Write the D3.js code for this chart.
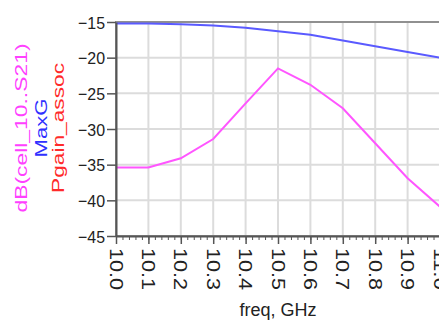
<!DOCTYPE html>
<html><head><meta charset="utf-8">
<script src="https://cdn.jsdelivr.net/npm/d3@7"></script>
<style>html,body{margin:0;padding:0;background:#fff;overflow:hidden}</style>
</head><body>
<svg id="c" width="439" height="322"></svg>
<script>
const freq = [10.0,10.1,10.2,10.3,10.4,10.5,10.6,10.7,10.8,10.9,11.0];
const maxG = [-15.2,-15.2,-15.3,-15.5,-15.8,-16.3,-16.8,-17.6,-18.4,-19.2,-20.0];
const s21 = [-35.4,-35.4,-34.1,-31.4,-26.4,-21.5,-23.8,-27.1,-32.0,-36.9,-40.9];
const xTicks = [10.0,10.1,10.2,10.3,10.4,10.5,10.6,10.7,10.8,10.9,11.0];
const yTicks = [-45,-40,-35,-30,-25,-20,-15];

const svg = d3.select('#c');
const font = 'Arial, "Liberation Sans", Helvetica, sans-serif';
const x = d3.scaleLinear().domain([10.0,11.0]).range([116,440]);
const y = d3.scaleLinear().domain([-45,-15]).range([236,22]);

// grid
svg.append('g').selectAll('line').data(xTicks).join('line')
  .attr('x1',d=>x(d)).attr('x2',d=>x(d)).attr('y1',y(-15)).attr('y2',y(-45))
  .attr('stroke','#dcdcdc').attr('stroke-width',2);
svg.append('g').selectAll('line').data(yTicks).join('line')
  .attr('x1',x(10)).attr('x2',x(11)).attr('y1',d=>y(d)).attr('y2',d=>y(d))
  .attr('stroke','#dcdcdc').attr('stroke-width',2);

// frame
svg.append('rect').attr('x',x(10)).attr('y',y(-15)).attr('width',x(11)-x(10)).attr('height',y(-45)-y(-15))
  .attr('fill','none').attr('stroke','#909090').attr('stroke-width',2);

// lines
const line = (vals)=>d3.line().x((d,i)=>x(freq[i])).y(d=>y(d))(vals);
svg.append('path').attr('d',line(maxG)).attr('fill','none').attr('stroke','#5a5aff').attr('stroke-width',2);
svg.append('path').attr('d',line(s21)).attr('fill','none').attr('stroke','#ff55ff').attr('stroke-width',2);

// y axis
const yAxis = svg.append('g').attr('transform',`translate(${x(10)},0)`)
  .call(d3.axisLeft(y).tickValues(yTicks).tickSize(9).tickSizeOuter(0).tickPadding(2).tickFormat(d3.format('d')));
yAxis.select('.domain').attr('stroke','#555').attr('stroke-width',2);
yAxis.selectAll('.tick line').attr('stroke','#555').attr('stroke-width',1.5);
yAxis.selectAll('.tick text').attr('font-family',font).attr('font-size',17).attr('fill','#222')
  .attr('textLength',27).attr('lengthAdjust','spacingAndGlyphs').attr('dy','0.36em');

// x axis
const minor = d3.range(0,51).map(i=>10+i*0.02);
const xMinor = svg.append('g').attr('transform',`translate(0,${y(-45)})`)
  .call(d3.axisBottom(x).tickValues(minor).tickSize(4).tickFormat(''));
xMinor.select('.domain').remove();
xMinor.selectAll('.tick line').attr('stroke','#555').attr('stroke-width',1);
const xAxis = svg.append('g').attr('transform',`translate(0,${y(-45)})`)
  .call(d3.axisBottom(x).tickValues(xTicks).tickSize(8).tickSizeOuter(0).tickFormat(d3.format('.1f')));
xAxis.select('.domain').attr('stroke','#555').attr('stroke-width',2);
xAxis.selectAll('.tick line').attr('stroke','#555').attr('stroke-width',1.5);
xAxis.selectAll('.tick text')
  .attr('font-family',font).attr('font-size',19).attr('fill','#222')
  .attr('text-anchor','start').attr('y',0).attr('dy','0.36em')
  .attr('transform','translate(0,12) rotate(90)')
  .attr('textLength',42).attr('lengthAdjust','spacingAndGlyphs');

// axis titles
svg.append('text').attr('x',x(10.5)).attr('y',316).attr('text-anchor','middle')
  .attr('font-family',font).attr('font-size',18).attr('fill','#222').text('freq, GHz');

const cy = 128;
const titles = [
  {t:'dB(cell_10..S21)', bx:27, c:'#ff40ff', len:169},
  {t:'MaxG', bx:47, c:'#3030ff', len:59},
  {t:'Pgain_assoc', bx:64, c:'#ff2a2a', len:130}
];
svg.append('g').selectAll('text').data(titles).join('text')
  .attr('transform',d=>`translate(${d.bx},${cy}) rotate(-90)`)
  .attr('text-anchor','middle').attr('font-family',font).attr('font-size',17)
  .attr('fill',d=>d.c).attr('textLength',d=>d.len).attr('lengthAdjust','spacingAndGlyphs')
  .text(d=>d.t);
</script>
</body></html>
